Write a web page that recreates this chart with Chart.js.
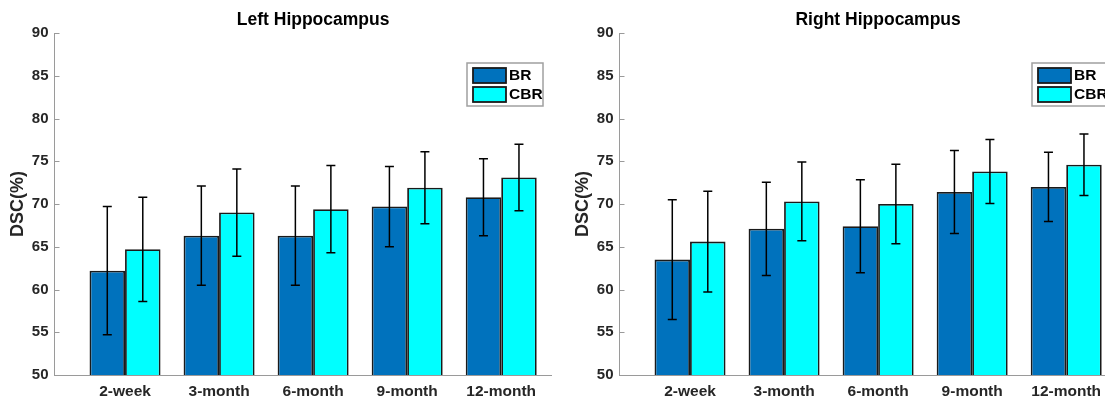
<!DOCTYPE html>
<html>
<head>
<meta charset="utf-8">
<script src="https://cdn.jsdelivr.net/npm/chart.js@4"></script>
<style>
  html, body { margin: 0; padding: 0; background: #fff; overflow: hidden; width: 1105px; height: 398px; }
  .box { position: absolute; top: 0; width: 552px; height: 398px; }
  #leftBox { left: 0; }
  #rightBox { left: 565px; }
</style>
</head>
<body>
<div class="box" id="leftBox"><canvas id="leftChart" width="552" height="398"></canvas></div>
<div class="box" id="rightBox"><canvas id="rightChart" width="552" height="398"></canvas></div>
<script>
    // data
    const categories = ['2-week', '3-month', '6-month', '9-month', '12-month'];
    const seriesNames = ['BR', 'CBR'];

    const leftBR = [62.2, 66.3, 66.3, 69.7, 70.8];
    const leftBRErr = [7.5, 5.8, 5.8, 4.7, 4.5];
    const leftCBR = [64.7, 69.0, 69.4, 71.9, 73.1];
    const leftCBRErr = [6.1, 5.1, 5.1, 4.2, 3.9];

    const rightBR = [63.5, 67.1, 67.4, 71.4, 72.0];
    const rightBRErr = [7.0, 5.45, 5.45, 4.85, 4.05];
    const rightCBR = [65.6, 70.3, 70.0, 73.8, 74.6];
    const rightCBRErr = [5.9, 4.6, 4.65, 3.75, 3.6];

    const yTicks = [50, 55, 60, 65, 70, 75, 80, 85, 90];

    const FONT = '"Liberation Sans", Arial, Helvetica, sans-serif';
    const TEXT = '#262626';
    const AXIS = '#9a9a9a';

    // error bars, title, legend, inward y ticks
    const extras = {
        id: 'extras',
        afterDatasetsDraw(chart, args, opts) {
            const ctx = chart.ctx;
            const y = chart.scales.y;
            ctx.save();
            ctx.strokeStyle = '#000';
            ctx.lineWidth = 1.5;
            chart.data.datasets.forEach((ds, di) => {
                const meta = chart.getDatasetMeta(di);
                meta.data.forEach((bar, i) => {
                    const v = ds.data[i].y;
                    const e = ds.errors[i];
                    const top = y.getPixelForValue(v + e);
                    const bot = y.getPixelForValue(v - e);
                    ctx.beginPath();
                    ctx.moveTo(bar.x, top); ctx.lineTo(bar.x, bot);
                    ctx.moveTo(bar.x - 4.5, top); ctx.lineTo(bar.x + 4.5, top);
                    ctx.moveTo(bar.x - 4.5, bot); ctx.lineTo(bar.x + 4.5, bot);
                    ctx.stroke();
                });
            });
            ctx.restore();
        },
        afterDraw(chart, args, opts) {
            const ctx = chart.ctx;
            const area = chart.chartArea;
            const x = chart.scales.x;
            const y = chart.scales.y;
            ctx.save();

            // inward tick marks on the y axis
            ctx.strokeStyle = AXIS;
            ctx.lineWidth = 1;
            yTicks.forEach(t => {
                const py = Math.round(y.getPixelForValue(t)) + 0.5;
                ctx.beginPath();
                ctx.moveTo(area.left, py);
                ctx.lineTo(area.left + 5, py);
                ctx.stroke();
            });

            // title, centred over the middle group
            ctx.fillStyle = '#000';
            ctx.font = 'bold 17.5px ' + FONT;
            ctx.textAlign = 'center';
            ctx.textBaseline = 'middle';
            ctx.fillText(opts.title, x.getPixelForValue(3), 20);

            // legend box
            const w = 76, h = 43;
            const bx = area.right - 9 - w;
            const by = area.top + 30;
            ctx.fillStyle = '#fff';
            ctx.fillRect(bx, by, w, h);
            ctx.strokeStyle = '#a0a0a0';
            ctx.lineWidth = 1.5;
            ctx.strokeRect(bx, by, w, h);
            chart.data.datasets.forEach((ds, di) => {
                const sy = by + 5 + di * 19;
                ctx.fillStyle = ds.backgroundColor;
                ctx.fillRect(bx + 6, sy, 33, 15);
                ctx.strokeStyle = '#1a1a1a';
                ctx.lineWidth = 1.8;
                ctx.strokeRect(bx + 6, sy, 33, 15);
                ctx.fillStyle = '#000';
                ctx.font = 'bold 15.5px ' + FONT;
                ctx.textAlign = 'left';
                ctx.textBaseline = 'middle';
                ctx.fillText(ds.label, bx + 42, sy + 8);
            });
            ctx.restore();
        }
    };

    function toPoints(values) {
        return values.map((v, i) => ({ x: i + 1, y: v }));
    }

    function makeChart(id, title, br, brErr, cbr, cbrErr) {
        return new Chart(document.getElementById(id), {
            type: 'bar',
            data: {
                datasets: [
                    {
                        label: seriesNames[0],
                        data: toPoints(br),
                        errors: brErr,
                        backgroundColor: '#0072BD',
                        borderColor: '#1a1a1a',
                        borderWidth: 1.8,
                        base: 50
                    },
                    {
                        label: seriesNames[1],
                        data: toPoints(cbr),
                        errors: cbrErr,
                        backgroundColor: '#00FFFF',
                        borderColor: '#1a1a1a',
                        borderWidth: 1.8,
                        base: 50
                    }
                ]
            },
            options: {
                responsive: false,
                animation: false,
                categoryPercentage: 0.755,
                barPercentage: 1.0,
                layout: { padding: { top: 33, left: 0, right: 0, bottom: 0 } },
                plugins: {
                    legend: { display: false },
                    tooltip: { enabled: false },
                    extras: { title: title }
                },
                scales: {
                    x: {
                        type: 'linear',
                        offset: false,
                        min: 0.25,
                        max: 5.54,
                        grid: { display: false, drawTicks: false, offset: false },
                        border: { display: true, color: AXIS, width: 1 },
                        afterBuildTicks: s => { s.ticks = categories.map((c, i) => ({ value: i + 1 })); },
                        afterFit: s => { s.height = 23; },
                        ticks: {
                            padding: 7,
                            color: TEXT,
                            font: { family: FONT, size: 15.5, weight: 'bold' },
                            maxRotation: 0,
                            autoSkip: false,
                            callback: v => categories[v - 1] || ''
                        }
                    },
                    y: {
                        min: 50,
                        max: 90,
                        grid: { display: false, drawTicks: false },
                        border: { display: true, color: AXIS, width: 1 },
                        afterFit: s => { s.width = 54.5; },
                        ticks: {
                            stepSize: 5,
                            padding: 6,
                            color: TEXT,
                            font: { family: FONT, size: 15, weight: 'bold' }
                        },
                        title: {
                            display: true,
                            text: 'DSC(%)',
                            color: TEXT,
                            padding: { top: 7, bottom: 0 },
                            font: { family: FONT, size: 18, weight: 'bold' }
                        }
                    }
                }
            },
            plugins: [extras]
        });
    }

    makeChart('leftChart', 'Left Hippocampus', leftBR, leftBRErr, leftCBR, leftCBRErr);
    makeChart('rightChart', 'Right Hippocampus', rightBR, rightBRErr, rightCBR, rightCBRErr);
</script>
</body>
</html>
